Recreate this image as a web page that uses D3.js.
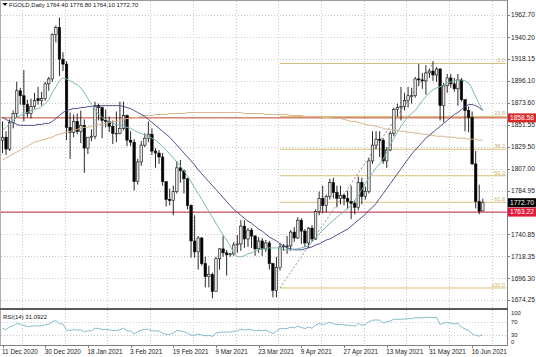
<!DOCTYPE html>
<html><head><meta charset="utf-8">
<script src="https://cdn.jsdelivr.net/npm/d3@7"></script>
<style>
html,body{margin:0;padding:0;background:#fff;}
svg{display:block;}
text{font-family:"Liberation Sans",Arial,sans-serif;}
</style></head><body>
<svg id="c" width="536" height="357"></svg>
<script>
const title = "FGOLD,Daily  1764.40 1776.80 1764.10 1772.70";
const dates = ["2020-12-11","2020-12-14","2020-12-15","2020-12-16","2020-12-17","2020-12-18","2020-12-21","2020-12-22","2020-12-23","2020-12-24","2020-12-28","2020-12-29","2020-12-30","2020-12-31",
"2021-01-04","2021-01-05","2021-01-06","2021-01-07","2021-01-08","2021-01-11","2021-01-12","2021-01-13","2021-01-14","2021-01-15","2021-01-18","2021-01-19","2021-01-20","2021-01-21","2021-01-22","2021-01-25","2021-01-26","2021-01-27","2021-01-28","2021-01-29",
"2021-02-01","2021-02-02","2021-02-03","2021-02-04","2021-02-05","2021-02-08","2021-02-09","2021-02-10","2021-02-11","2021-02-12","2021-02-15","2021-02-16","2021-02-17","2021-02-18","2021-02-19","2021-02-22","2021-02-23","2021-02-24","2021-02-25","2021-02-26",
"2021-03-01","2021-03-02","2021-03-03","2021-03-04","2021-03-05","2021-03-08","2021-03-09","2021-03-10","2021-03-11","2021-03-12","2021-03-14","2021-03-15","2021-03-16","2021-03-17","2021-03-18","2021-03-19","2021-03-22","2021-03-23","2021-03-24","2021-03-25","2021-03-26","2021-03-29","2021-03-30","2021-03-31",
"2021-04-01","2021-04-02","2021-04-05","2021-04-06","2021-04-07","2021-04-08","2021-04-09","2021-04-12","2021-04-13","2021-04-14","2021-04-15","2021-04-16","2021-04-19","2021-04-20","2021-04-21","2021-04-22","2021-04-23","2021-04-26","2021-04-27","2021-04-28","2021-04-29","2021-04-30",
"2021-05-03","2021-05-04","2021-05-05","2021-05-06","2021-05-07","2021-05-10","2021-05-11","2021-05-12","2021-05-13","2021-05-14","2021-05-17","2021-05-18","2021-05-19","2021-05-20","2021-05-21","2021-05-24","2021-05-25","2021-05-26","2021-05-27","2021-05-28","2021-05-31",
"2021-06-01","2021-06-02","2021-06-03","2021-06-04","2021-06-07","2021-06-08","2021-06-09","2021-06-10","2021-06-11","2021-06-14","2021-06-15","2021-06-16","2021-06-17","2021-06-18","2021-06-21"];
const opens = [1836,1839,1827,1854,1863,1886,1881,1872,1863,1870,1878,1876,1878,1893,1898,1943,1950,1918,1913,1849,1844,1855,1845,1851,1828,1839,1840,1871,1869,1856,1855,1850,1843,1843,1848,1861,1836,1834,1794,1814,1831,1838,1842,1825,1823,1819,1794,1776,1775,1784,1808,1805,1797,1770,1734,1723,1737,1711,1698,1700,1683,1716,1726,1722,1720,1721,1730,1731,1749,1736,1745,1739,1726,1734,1726,1732,1711,1684,1707,1728,1729,1729,1743,1737,1755,1744,1732,1747,1736,1764,1777,1770,1779,1793,1783,1777,1780,1777,1774,1772,1768,1793,1779,1784,1815,1831,1837,1836,1815,1826,1843,1867,1869,1870,1876,1881,1881,1898,1897,1896,1904,1906,1902,1908,1871,1891,1899,1893,1888,1897,1877,1866,1859,1812,1774,1764.4];
const highs = [1855,1845,1857,1866,1895,1889,1907,1877,1878,1884,1890,1885,1895,1900,1944,1952,1960,1925,1916,1864,1862,1863,1866,1857,1838,1847,1875,1873,1870,1867,1860,1856,1865,1875,1875,1862,1845,1837,1817,1835,1843,1855,1848,1828,1826,1823,1794,1787,1790,1815,1816,1806,1798,1771,1760,1739,1738,1718,1709,1702,1718,1727,1739,1725,1722,1733,1740,1755,1755,1747,1747,1740,1738,1737,1735,1734,1712,1718,1732,1731,1739,1745,1748,1758,1757,1746,1748,1750,1766,1784,1790,1781,1797,1798,1790,1790,1782,1785,1790,1775,1799,1798,1789,1818,1845,1845,1845,1838,1829,1845,1869,1873,1890,1884,1890,1889,1900,1913,1904,1912,1908,1916,1910,1909,1894,1903,1903,1899,1903,1899,1877,1870,1865,1825,1791,1776.8];
const lows = [1823,1821,1825,1848,1859,1872,1855,1859,1858,1868,1872,1871,1876,1886,1895,1935,1901,1906,1836,1817,1839,1842,1833,1803,1822,1835,1837,1856,1838,1849,1844,1832,1834,1842,1846,1830,1830,1785,1791,1810,1829,1834,1821,1808,1812,1790,1769,1770,1760,1782,1793,1782,1766,1717,1717,1705,1709,1687,1687,1676,1683,1705,1718,1699,1718,1719,1722,1724,1727,1728,1727,1719,1722,1719,1723,1705,1677,1677,1704,1724,1721,1724,1733,1736,1731,1728,1727,1734,1735,1760,1762,1763,1776,1777,1768,1771,1770,1766,1756,1761,1765,1771,1776,1782,1812,1827,1819,1812,1808,1825,1840,1860,1856,1866,1869,1873,1879,1891,1888,1882,1899,1896,1895,1856,1854,1884,1889,1885,1871,1875,1845,1844,1811,1767,1761,1764.1];
const closes = [1839,1827,1854,1863,1886,1881,1872,1863,1870,1876,1876,1878,1893,1898,1943,1950,1918,1913,1849,1844,1855,1845,1851,1828,1839,1840,1871,1869,1856,1855,1850,1843,1843,1848,1861,1836,1834,1794,1814,1831,1838,1842,1825,1823,1819,1794,1776,1775,1784,1808,1805,1797,1770,1734,1723,1737,1711,1698,1700,1683,1716,1726,1722,1720,1721,1730,1731,1749,1736,1745,1739,1726,1734,1726,1732,1711,1684,1707,1728,1729,1729,1743,1737,1755,1744,1732,1747,1736,1764,1777,1770,1779,1793,1783,1777,1780,1777,1774,1772,1768,1793,1779,1784,1815,1831,1837,1836,1815,1826,1843,1867,1869,1870,1876,1881,1881,1898,1897,1896,1904,1906,1902,1908,1871,1891,1899,1893,1888,1897,1877,1866,1859,1812,1774,1764,1772.7];
// moving averages (fast teal, medium navy, slow tan)
const maFast = [1846,1849,1853,1856,1859,1861,1863,1864,1866,1867,1868,1870,1873,1877,1884,1890,1896,1899,1898,1896,1894,1892,1889,1884,1878,1872,1867,1862,1859,1857,1855,1853,1852,1851,1850,1849,1848,1846,1844,1843,1841,1840,1838,1836,1833,1830,1826,1822,1818,1814,1810,1805,1800,1794,1788,1782,1776,1770,1764,1758,1752,1746,1740,1735,1729,1722,1718,1718,1719,1721,1722,1724,1725,1726,1726,1727,1727,1727,1726,1725,1725,1725,1726,1726,1727,1728,1729,1733,1737,1741,1745,1748,1752,1755,1758,1761,1764,1767,1770,1775,1780,1786,1792,1798,1803,1808,1812,1817,1824,1831,1838,1844,1850,1855,1860,1863,1866,1871,1876,1880,1884,1887,1889,1890,1892,1894,1895,1896,1897,1897,1896,1894,1888,1880,1873,1866];
const maMid = [1859,1857,1855,1854,1852,1851,1851,1851,1851,1851,1852,1852,1853,1853,1855,1858,1861,1864,1866,1867,1868,1868,1869,1869,1870,1870,1870,1870,1871,1871,1871,1871,1871,1871,1870,1869,1868,1866,1864,1862,1860,1857,1854,1851,1848,1845,1842,1839,1835,1831,1827,1823,1819,1815,1811,1806,1802,1798,1794,1790,1786,1782,1778,1774,1770,1766,1763,1760,1757,1754,1752,1749,1746,1744,1741,1738,1736,1734,1731,1729,1727,1726,1725,1725,1725,1726,1727,1728,1730,1731,1733,1735,1736,1738,1740,1742,1744,1746,1749,1752,1755,1758,1761,1765,1768,1772,1777,1782,1787,1792,1797,1802,1807,1812,1817,1822,1826,1830,1834,1838,1841,1844,1847,1850,1853,1856,1859,1862,1864,1867,1870,1872,1872,1871,1869,1866];
const maSlow = [1816,1818,1820,1822,1824,1826,1828,1830,1832,1834,1835,1836,1837,1838,1839,1841,1842,1843,1844,1845,1846,1847,1848,1849,1849,1850,1851,1852,1852,1853,1854,1855,1855,1856,1857,1858,1858,1859,1859,1860,1861,1861,1861,1862,1862,1862,1862,1863,1863,1863,1863,1863,1864,1864,1864,1864,1864,1864,1864,1864,1864,1864,1864,1864,1864,1864,1864,1864,1863,1863,1863,1863,1863,1863,1862,1862,1862,1862,1862,1862,1862,1861,1861,1861,1861,1860,1860,1860,1860,1860,1859,1859,1859,1858,1858,1858,1857,1856,1855,1855,1854,1853,1852,1851,1851,1850,1849,1848,1847,1847,1846,1846,1845,1845,1844,1844,1843,1843,1842,1842,1841,1841,1840,1840,1840,1839,1839,1839,1838,1838,1838,1837,1837,1837,1836,1836];
const rsi = [50,47,55,58,65,63,59,56,57,58,58,58,61,63,71,74,65,63,45,44,47,45,46,40,43,43,51,50,47,47,46,44,44,46,51,43,42,34,40,45,47,48,43,43,42,36,32,32,36,44,43,41,35,30,29,33,30,28,29,26,36,39,39,39,39,42,42,48,45,48,46,43,45,43,45,40,34,43,49,50,50,54,52,57,53,50,54,51,60,65,62,65,69,64,62,63,61,60,59,57,65,60,62,71,75,76,75,67,70,73,78,78,78,79,80,80,83,82,82,84,84,83,84,62,67,68,66,64,66,54,49,44,34,29,27,31.0922];
const priceTicks = [1962.70,1940.20,1918.15,1896.10,1873.60,1851.55,1829.50,1807.00,1784.95,1762.90,1740.85,1718.35,1696.30,1674.25];
const rsiLevels = [100,70,30,0];
const dateTickLabels = ["11 Dec 2020","30 Dec 2020","18 Jan 2021","3 Feb 2021","19 Feb 2021","9 Mar 2021","23 Mar 2021","9 Apr 2021","27 Apr 2021","13 May 2021","31 May 2021","16 Jun 2021"];
const fibLevels = [0,23.6,38.2,50,61.8,100];
const fibLow = {bar:78, price:1686.4};
const fibHigh = {bar:121, price:1913.6};
const hLevel1 = 1858.58;
const hLevel2 = 1763.22;
const lastClose = 1772.70;
const rsiName = "RSI(14) 31.0922";

const svg = d3.select("#c");
const W = 536, H = 357, plotR = 507, mainB = 308, rsiT = 310, rsiB = 345;
const n = closes.length;
const x = d3.scaleLinear().domain([0, n-1]).range([2.5, 482.8]);
const y = d3.scaleLinear().domain([1674.25, 1962.70]).range([300, 15]);
const yR = d3.scaleLinear().domain([0, 100]).range([rsiB, 312]);

svg.append("rect").attr("width", W).attr("height", H).attr("fill", "#fff");
const defs = svg.append("defs");
defs.append("clipPath").attr("id","mclip").append("rect").attr("x",0).attr("y",0).attr("width",plotR).attr("height",mainB);
defs.append("clipPath").attr("id","rclip").append("rect").attr("x",0).attr("y",rsiT).attr("width",plotR).attr("height",rsiB-rsiT);

const gridC = "#c9c9c9";
const vIdx = d3.range(dateTickLabels.length).map(k => k*12 + 5.5);
svg.append("g").selectAll("line").data(vIdx).join("line")
  .attr("x1", d => Math.round(x(d))+0.5).attr("x2", d => Math.round(x(d))+0.5)
  .attr("y1", 1).attr("y2", rsiB).attr("stroke", gridC).attr("stroke-dasharray","1,2");
svg.append("g").selectAll("line").data(priceTicks).join("line")
  .attr("x1", 1).attr("x2", plotR).attr("y1", d => Math.round(y(d))+0.5).attr("y2", d => Math.round(y(d))+0.5)
  .attr("stroke", gridC).attr("stroke-dasharray","1,2");
svg.append("g").selectAll("line").data([70,30]).join("line")
  .attr("x1", 1).attr("x2", plotR).attr("y1", d => Math.round(yR(d))+0.5).attr("y2", d => Math.round(yR(d))+0.5)
  .attr("stroke", gridC).attr("stroke-dasharray","1,2");

const main = svg.append("g").attr("clip-path","url(#mclip)");

main.append("line").attr("x1",0).attr("x2",plotR).attr("y1",y(hLevel1)).attr("y2",y(hLevel1)).attr("stroke","#c0452a").attr("stroke-width",1);
main.append("line").attr("x1",0).attr("x2",plotR).attr("y1",y(hLevel2)).attr("y2",y(hLevel2)).attr("stroke","#c0243e").attr("stroke-width",1);

const fibColor = "#d9c07a";
const fibPrice = l => fibHigh.price - (fibHigh.price - fibLow.price) * l / 100;
const fg = main.append("g");
fg.selectAll("line").data(fibLevels).join("line")
  .attr("x1", x(fibLow.bar)).attr("x2", plotR-1)
  .attr("y1", d => y(fibPrice(d))).attr("y2", d => y(fibPrice(d)))
  .attr("stroke", fibColor).attr("stroke-width", 1);
fg.selectAll("text").data(fibLevels).join("text")
  .attr("x", plotR-2).attr("y", d => y(fibPrice(d)) - 1.2)
  .attr("text-anchor","end").attr("font-size","5.5px").attr("fill","#cbb36a")
  .text(d => d.toFixed(1));
main.append("line").attr("x1", x(fibLow.bar)).attr("y1", y(fibLow.price))
  .attr("x2", x(fibHigh.bar)).attr("y2", y(fibHigh.price))
  .attr("stroke","#777").attr("stroke-width",0.8).attr("stroke-dasharray","2,2");

const idx = d3.range(n);
const cg = main.append("g");
cg.selectAll("line").data(idx).join("line")
  .attr("x1", i => x(i)).attr("x2", i => x(i))
  .attr("y1", i => y(highs[i])).attr("y2", i => y(lows[i]))
  .attr("stroke","#111").attr("stroke-width",0.9);
const bw = 2.5;
cg.selectAll("rect").data(idx).join("rect")
  .attr("x", i => x(i) - bw/2).attr("width", bw)
  .attr("y", i => y(Math.max(opens[i], closes[i])))
  .attr("height", i => Math.max(0.8, Math.abs(y(opens[i]) - y(closes[i]))))
  .attr("fill", i => closes[i] >= opens[i] ? "#e4e4e4" : "#000")
  .attr("stroke", "#111").attr("stroke-width", 0.6);

const ln = d3.line().x((d,i) => x(i)).y(d => y(d));
main.append("path").attr("d", ln(maSlow)).attr("fill","none").attr("stroke","#d8b48c").attr("stroke-width",1);
main.append("path").attr("d", ln(maMid)).attr("fill","none").attr("stroke","#4f4f8c").attr("stroke-width",1);
main.append("path").attr("d", ln(maFast)).attr("fill","none").attr("stroke","#7db8b2").attr("stroke-width",1);

const rg = svg.append("g").attr("clip-path","url(#rclip)");
rg.append("path").attr("d", d3.line().x((d,i)=>x(i)).y(d=>yR(d))(rsi))
  .attr("fill","none").attr("stroke","#86bccc").attr("stroke-width",1);

svg.append("line").attr("x1",0).attr("x2",plotR).attr("y1",0.5).attr("y2",0.5).attr("stroke","#9a9a9a");
svg.append("line").attr("x1",0.5).attr("x2",0.5).attr("y1",0).attr("y2",rsiB).attr("stroke","#b0b0b0");
svg.append("line").attr("x1",plotR+0.5).attr("x2",plotR+0.5).attr("y1",0).attr("y2",rsiB).attr("stroke","#808080");
svg.append("rect").attr("x",0).attr("y",mainB).attr("width",plotR+1).attr("height",2).attr("fill","#5a5a5a");
svg.append("line").attr("x1",0).attr("x2",plotR+1).attr("y1",rsiB+0.5).attr("y2",rsiB+0.5).attr("stroke","#808080");

const ax = svg.append("g").attr("font-size","6.6px").attr("fill","#222");
ax.selectAll("line").data(priceTicks).join("line")
  .attr("x1", plotR).attr("x2", plotR+3).attr("y1", d => Math.round(y(d))+0.5).attr("y2", d => Math.round(y(d))+0.5).attr("stroke","#808080");
ax.selectAll("text").data(priceTicks).join("text")
  .attr("x", 511).attr("y", d => y(d) + 2.4).text(d => d.toFixed(2));

function tag(p, bg){
  const g = svg.append("g");
  g.append("rect").attr("x", plotR+1).attr("y", y(p)-4.5).attr("width", W-plotR-1).attr("height", 9).attr("fill", bg);
  g.append("text").attr("x", 510).attr("y", y(p)+2.4).attr("font-size","6.6px").attr("fill","#fff").text(p.toFixed(2));
}
tag(hLevel1, "#d8282a");
tag(lastClose, "#000");
tag(hLevel2, "#e01a38");

svg.append("g").attr("font-size","5.8px").attr("fill","#222").selectAll("text").data(rsiLevels).join("text")
  .attr("x", 511).attr("y", d => Math.min(344.2, Math.max(314.5, yR(d) + 1.6))).text(d => d);

const dl = svg.append("g").attr("font-size","6.4px").attr("fill","#222");
dl.selectAll("line").data(dateTickLabels).join("line")
  .attr("x1", (d,k) => Math.round(x(k*12))+0.5).attr("x2", (d,k) => Math.round(x(k*12))+0.5)
  .attr("y1", rsiB).attr("y2", rsiB+3).attr("stroke","#808080");
dl.selectAll("text").data(dateTickLabels).join("text")
  .attr("x", (d,k) => x(k*12) - 0.5).attr("y", 354).text(d => d);

svg.append("path").attr("d","M2.5,3 L7.5,3 L5,6 Z").attr("fill","#000");
svg.append("text").attr("x", 9).attr("y", 7.3).attr("font-size","6px").attr("fill","#111").text(title);
svg.append("text").attr("x", 3).attr("y", 318.5).attr("font-size","6px").attr("fill","#111").text(rsiName);
</script>
</body></html>
